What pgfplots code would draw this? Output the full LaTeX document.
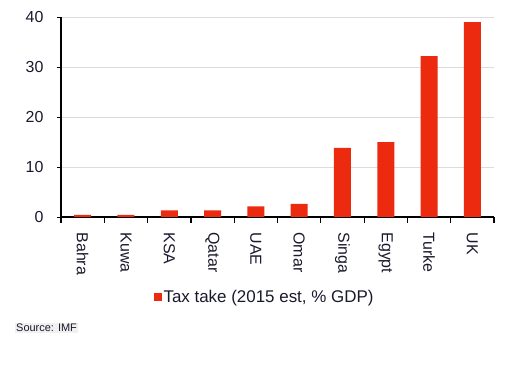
\documentclass[border=0pt]{standalone}
\usepackage{pgfplots}
\pgfplotsset{compat=1.18}
\usepackage{fontspec}
\setmainfont{Liberation Sans}
\definecolor{barred}{RGB}{236,42,16}
\definecolor{gridgray}{RGB}{220,220,220}
\definecolor{txt}{RGB}{25,25,45}
\begin{document}
\begin{tikzpicture}
\path[use as bounding box] (0,0) rectangle (532bp,369bp);
\begin{axis}[
  at={(61bp,152bp)}, anchor=south west,
  scale only axis, width=433bp, height=200bp,
  xmin=-0.5, xmax=9.5, ymin=0, ymax=40,
  axis lines*=left,
  axis line style={black, line width=1.2pt},
  ybar, bar width=17bp,
  xtick={0,...,9},
  xticklabels={Bahra,Kuwa,KSA,Qatar,UAE,Omar,Singa,Egypt,Turke,UK},
  minor xtick={-0.5,0.5,...,9.5},
  major x tick style={draw=none},
  minor x tick style={black, line width=1.2pt},
  minor tick length=6bp,
  tick align=outside,
  ytick={0,10,...,40},
  major tick length=4bp,
  y tick style={black, line width=1pt},
  ymajorgrids, grid style={gridgray, line width=0.9pt},
  x tick label style={rotate=-90, anchor=west, font=\fontsize{16}{16}\selectfont, text=txt, xshift=8bp},
  y tick label style={font=\fontsize{16}{16}\selectfont, text=txt, xshift=-10bp},
  /pgf/number format/assume math mode=true,
  legend style={at={(axis description cs:0.47,-0.40)}, anchor=center, draw=none, fill=none,
    font=\fontsize{17}{17}\selectfont, text=txt, inner sep=0pt},
  legend image code/.code={\fill[barred] (0bp,-4bp) rectangle (8bp,4bp);},
]
\addplot[fill=barred, draw=none] coordinates {
(0,0.4) (1,0.4) (2,1.3) (3,1.3) (4,2.1) (5,2.6) (6,13.8) (7,15.0) (8,32.2) (9,39.0)};
\addlegendentry{Tax take (2015 est, \% GDP)}
\end{axis}
\node[anchor=west, fill=black!6, inner sep=1bp, font=\fontsize{11}{11}\selectfont, text=txt] at (15bp,41bp) {Source: IMF};
\end{tikzpicture}
\end{document}
